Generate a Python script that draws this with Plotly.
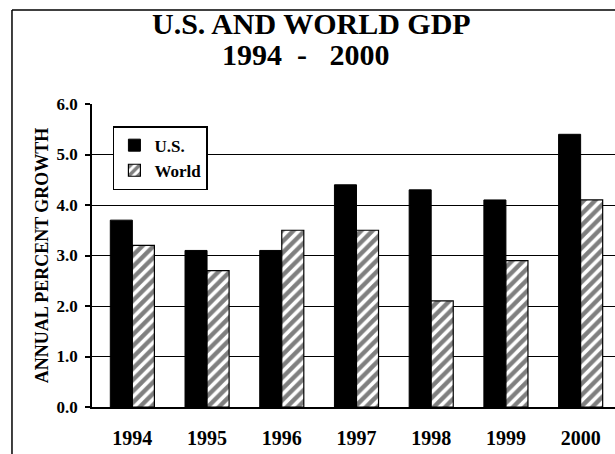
import plotly.graph_objects as go

years = ["1994", "1995", "1996", "1997", "1998", "1999", "2000"]
us_growth = [3.7, 3.1, 3.1, 4.4, 4.3, 4.1, 5.4]
world_growth = [3.2, 2.7, 3.5, 3.5, 2.1, 2.9, 4.1]
y_ticks = [0, 1, 2, 3, 4, 5, 6]
y_tick_labels = ["0.0", "1.0", "2.0", "3.0", "4.0", "5.0", "6.0"]

FONT = "Liberation Serif"

fig = go.Figure()
fig.add_trace(go.Bar(
    x=years, y=us_growth, name="<b>U.S.</b>",
    marker=dict(color="black", line=dict(color="black", width=1)),
))
fig.add_trace(go.Bar(
    x=years, y=world_growth, name="<b>World</b>",
    marker=dict(color="white", line=dict(color="black", width=1.2),
                pattern=dict(shape="/", fgcolor="black", bgcolor="white",
                             size=8, solidity=0.55)),
))

fig.update_layout(
    width=615, height=454,
    margin=dict(l=92, r=0, t=104, b=47, autoexpand=False),
    paper_bgcolor="white", plot_bgcolor="white",
    barmode="group", bargap=0.41, bargroupgap=0,
    font=dict(family=FONT, color="black"),
    showlegend=True,
    legend=dict(x=0.040, y=0.927, xanchor="left", yanchor="top",
                bordercolor="black", borderwidth=1.5, bgcolor="white",
                font=dict(family=FONT, size=17, color="black"),
                tracegroupgap=0, itemwidth=30),
    xaxis=dict(type="category", range=[-0.54, 6.46],
               tickvals=years, ticktext=[f"<b>{y}</b>" for y in years],
               showline=True, linecolor="black", linewidth=1.5,
               ticks="", showgrid=False,
               tickfont=dict(family=FONT, size=20, color="black"),
               ticklabelstandoff=12),
    yaxis=dict(range=[0, 6], tickvals=y_ticks,
               ticktext=[f"<b>{t}</b>" for t in y_tick_labels],
               showline=True, linecolor="black", linewidth=1.5,
               ticks="outside", ticklen=5, tickwidth=1.5, tickcolor="black",
               showgrid=True, gridcolor="black", gridwidth=1.3,
               zeroline=False,
               tickfont=dict(family=FONT, size=17, color="black"),
               ticklabelstandoff=4,
               title=dict(text="<b>ANNUAL PERCENT GROWTH</b>",
                          font=dict(family=FONT, size=18, color="black"),
                          standoff=3)),
)

fig.add_annotation(text="<b>U.S. AND WORLD GDP</b>", xref="paper", yref="paper",
                   x=0.42, y=1.267, xanchor="center", yanchor="middle",
                   showarrow=False, font=dict(family=FONT, size=30, color="black"))
fig.add_annotation(text="<b>1994\u00a0\u00a0-\u00a0\u00a0\u00a02000</b>", xref="paper", yref="paper",
                   x=0.41, y=1.162, xanchor="center", yanchor="middle",
                   showarrow=False, font=dict(family=FONT, size=30, color="black"))

# outer frame (left and top edges)
fig.add_shape(type="line", xref="paper", yref="paper",
              x0=-0.153, x1=-0.153, y0=1.31, y1=-0.2,
              line=dict(color="black", width=1.5))
fig.add_shape(type="line", xref="paper", yref="paper",
              x0=-0.153, x1=1.1, y0=1.31, y1=1.31,
              line=dict(color="black", width=1.5))

fig.write_html("out.html",
               config={"displayModeBar": False},
               post_script="document.body.style.margin='0';document.body.style.overflow='hidden';")
